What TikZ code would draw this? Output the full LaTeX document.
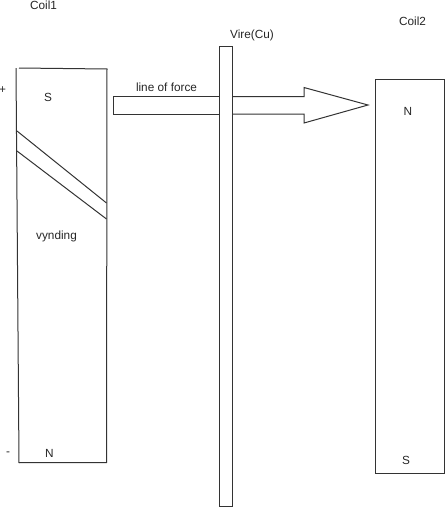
\documentclass[tikz,border=0pt]{standalone}
\usepackage{fontspec}
\setmainfont{Liberation Sans}
\tikzset{
  px/.style={x=1pt,y=-1pt},
  ln/.style={draw=black!80,line width=1pt},
  lbl/.style={inner sep=0pt,text=black!85,font=\fontsize{11.8}{13}\selectfont}
}
\begin{document}
\begin{tikzpicture}[px]
\useasboundingbox (0,0) rectangle (446,507);
% arrow "line of force"
\draw[ln] (219.5,96.5) -- (113.5,96.5) -- (113.5,114) -- (219.5,114);
\draw[ln] (232.5,96.5) -- (304,96.5) -- (304,87.5) -- (368,105) -- (304,123) -- (304,114) -- (232.5,114);
% wire
\draw[ln] (219.5,46) rectangle (232.5,506);
% coil 1
\draw[ln] (19,68) -- (107.5,69);
\draw[ln] (16,68) -- (19,463);
\draw[ln] (107,69) -- (106.5,462.5) -- (19,462.5);
\draw[ln] (17,131) -- (106.5,203);
\draw[ln] (17,151) -- (106.5,219);
% coil 2
\draw[ln] (375.5,79) rectangle (444.5,473.5);
% labels
\node[lbl] (coilone) at (43.5,5) {Coil1};
\node[lbl] (plus) at (2.5,90.5) {+};
\node[lbl] (sone) at (48,97.5) {S};
\node[lbl] (lof) at (166.5,87.5) {line of force};
\node[lbl] (vynd) at (56.5,236) {vynding};
\node[lbl] (minus) at (8,453.5) {-};
\node[lbl] (none) at (49.5,453.5) {N};
\node[lbl] (vire) at (252,35) {Vire(Cu)};
\node[lbl] (coiltwo) at (412.5,21) {Coil2};
\node[lbl] (ntwo) at (408,111.5) {N};
\node[lbl] (stwo) at (406,460) {S};
\end{tikzpicture}
\end{document}
